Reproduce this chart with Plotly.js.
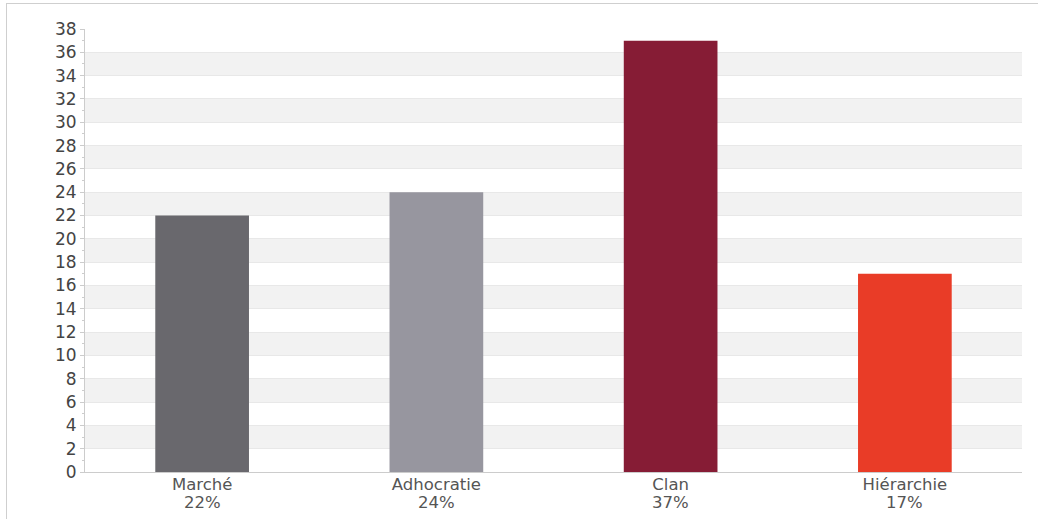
<!DOCTYPE html>
<html>
<head>
<meta charset="utf-8">
<script src="https://cdn.plot.ly/plotly-3.0.1.min.js"></script>
<style>
html,body{margin:0;padding:0;background:#fff;overflow:hidden;}
#frame{position:absolute;left:6px;top:3px;width:1040px;height:530px;border-left:1px solid #cfcfcf;border-top:1px solid #cfcfcf;}
#chart{position:absolute;left:0;top:0;width:1038px;height:519px;}
</style>
</head>
<body>
<div id="frame"></div>
<div id="chart"></div>
<script>
var categories = ["Marché", "Adhocratie", "Clan", "Hiérarchie"];
var percentLabels = ["22%", "24%", "37%", "17%"];
var values = [22, 24, 37, 17];
var barColors = ["#69686d", "#97969f", "#861c35", "#e93c27"];
var yTicks = [0,2,4,6,8,10,12,14,16,18,20,22,24,26,28,30,32,34,36,38];

var shapes = [];
for (var i = 0; i < yTicks.length - 1; i++) {
  if (i % 2 === 1) {
    shapes.push({type:"rect", xref:"paper", yref:"y", x0:0, x1:1, y0:yTicks[i], y1:yTicks[i+1],
      fillcolor:"#f2f2f2", line:{width:0}, layer:"below"});
  }
}

var annotations = categories.map(function(c, i){
  return {xref:"x", yref:"paper", x:c, y:0, yanchor:"top", yshift:-20,
    text: percentLabels[i], showarrow:false, borderpad:0,
    font:{family:"DejaVu Sans", size:16.5, color:"#555"}};
});

var trace = {
  type: "bar",
  x: categories,
  y: values,
  width: 0.4,
  marker: {color: barColors, line:{width:0}},
  hoverinfo: "none"
};

var layout = {
  width: 1038, height: 519,
  margin: {l:85, r:16, t:29, b:47},
  paper_bgcolor: "rgba(0,0,0,0)",
  plot_bgcolor: "rgba(0,0,0,0)",
  font: {family: "DejaVu Sans", color: "#444"},
  showlegend: false,
  xaxis: {
    type: "category",
    tickvals: categories,
    ticktext: categories,
    tickfont: {size: 16.5, color: "#555"},
    ticklabelstandoff: -3,
    showline: true, linecolor: "#cccccc", linewidth: 1,
    ticks: "", showgrid: false, zeroline: false,
    fixedrange: true
  },
  yaxis: {
    range: [0, 38],
    tickvals: yTicks,
    tickfont: {size: 17, color: "#444"},
    showline: true, linecolor: "#cccccc", linewidth: 1,
    ticks: "outside", ticklen: 4, tickcolor: "#cccccc",
    showgrid: true, gridcolor: "#e8e8e8", gridwidth: 1,
    zeroline: false,
    minor: {dtick: 1, ticks: "outside", ticklen: 2, tickcolor: "#cccccc", showgrid: false},
    fixedrange: true
  },
  shapes: shapes,
  annotations: annotations
};

Plotly.newPlot("chart", [trace], layout, {displayModeBar: false, staticPlot: true});
</script>
</body>
</html>
